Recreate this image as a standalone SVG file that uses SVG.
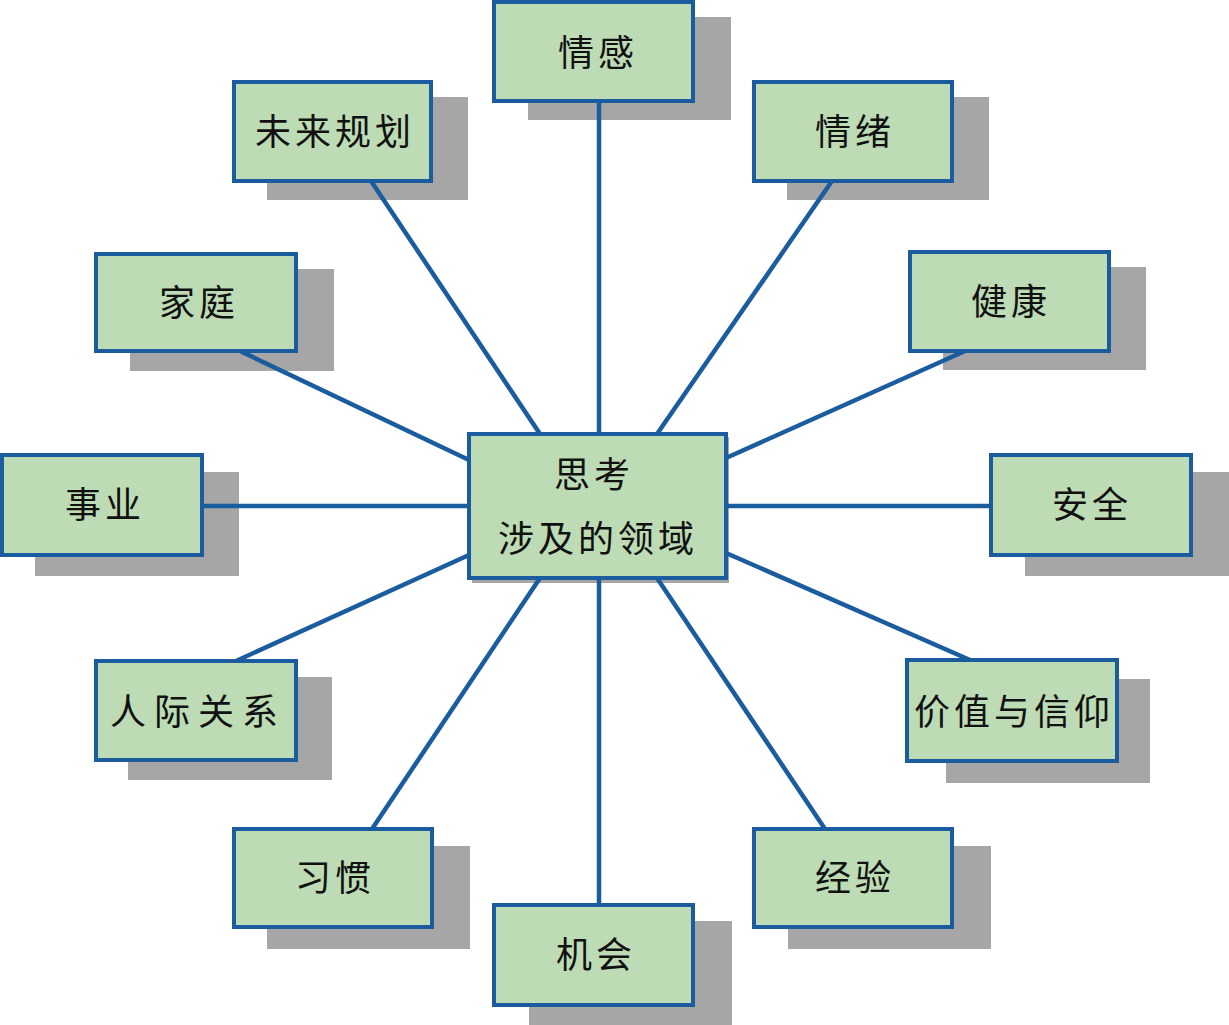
<svg xmlns="http://www.w3.org/2000/svg" width="1229" height="1025" viewBox="0 0 1229 1025">
<style>
.sh{fill:#a6a6a6}
.bx{fill:#bddbb4;stroke:#1a5c9e;stroke-width:4}
.t{font-family:"Noto Sans CJK SC","Noto Sans",sans-serif;font-size:36px;fill:#111;text-anchor:middle;dominant-baseline:central;letter-spacing:4px}
.ln{stroke:#1a5c9e;stroke-width:4.5;fill:none}
</style>
<rect width="1229" height="1025" fill="#ffffff"/>
<g id="shadows">
<rect class="sh" x="528" y="17" width="203" height="103"/>
<rect class="sh" x="267" y="97" width="201" height="103"/>
<rect class="sh" x="787" y="97" width="202" height="103"/>
<rect class="sh" x="130" y="269" width="204" height="102"/>
<rect class="sh" x="943" y="267" width="203" height="103"/>
<rect class="sh" x="35" y="472" width="204" height="104"/>
<rect class="sh" x="1025" y="472" width="204" height="104"/>
<rect class="sh" x="472" y="437" width="257" height="146"/>
<rect class="sh" x="128" y="677" width="204" height="103"/>
<rect class="sh" x="946" y="679" width="204" height="104"/>
<rect class="sh" x="267" y="846" width="203" height="103"/>
<rect class="sh" x="788" y="846" width="203" height="103"/>
<rect class="sh" x="529" y="921" width="203" height="104"/>
</g>
<g id="connectors">
<line class="ln" x1="599" y1="101" x2="599" y2="436"/>
<line class="ln" x1="599" y1="576" x2="599" y2="905"/>
<line class="ln" x1="202" y1="506" x2="471" y2="506"/>
<line class="ln" x1="724" y1="506" x2="991" y2="506"/>
<line class="ln" x1="371" y1="181" x2="540" y2="434"/>
<line class="ln" x1="832" y1="181" x2="657" y2="434"/>
<line class="ln" x1="240" y1="351" x2="469" y2="460"/>
<line class="ln" x1="965" y1="351" x2="726" y2="458"/>
<line class="ln" x1="236" y1="661" x2="469" y2="555"/>
<line class="ln" x1="970" y1="660" x2="726" y2="553"/>
<line class="ln" x1="372" y1="829" x2="540" y2="578"/>
<line class="ln" x1="825" y1="829" x2="657" y2="578"/>
</g>
<g id="center">
<rect class="bx" x="469" y="434" width="257" height="144"/>
<text class="t" x="594" y="472">思考</text>
<text class="t" x="598" y="536">涉及的领域</text>
</g>
<g id="n-qinggan"><rect class="bx" x="494" y="2" width="199" height="99"/><text class="t" x="598" y="50">情感</text></g>
<g id="n-weilai"><rect class="bx" x="234" y="82" width="197" height="99"/><text class="t" x="335" y="129">未来规划</text></g>
<g id="n-qingxu"><rect class="bx" x="754" y="82" width="198" height="99"/><text class="t" x="855" y="129">情绪</text></g>
<g id="n-jiating"><rect class="bx" x="96" y="254" width="200" height="97"/><text class="t" x="199" y="300">家庭</text></g>
<g id="n-jiankang"><rect class="bx" x="910" y="252" width="199" height="99"/><text class="t" x="1011" y="299">健康</text></g>
<g id="n-shiye"><rect class="bx" x="2" y="455" width="200" height="100"/><text class="t" x="105" y="502">事业</text></g>
<g id="n-anquan"><rect class="bx" x="991" y="455" width="200" height="100"/><text class="t" x="1092" y="502">安全</text></g>
<g id="n-renji"><rect class="bx" x="96" y="661" width="200" height="99"/><text class="t" x="198" y="709" style="letter-spacing:8px">人际关系</text></g>
<g id="n-jiazhi"><rect class="bx" x="907" y="660" width="210" height="101"/><text class="t" x="1014" y="709">价值与信仰</text></g>
<g id="n-xiguan"><rect class="bx" x="234" y="829" width="198" height="98"/><text class="t" x="335" y="875">习惯</text></g>
<g id="n-jingyan"><rect class="bx" x="754" y="829" width="198" height="98"/><text class="t" x="855" y="875">经验</text></g>
<g id="n-jihui"><rect class="bx" x="494" y="905" width="199" height="100"/><text class="t" x="596" y="952">机会</text></g>
</svg>
